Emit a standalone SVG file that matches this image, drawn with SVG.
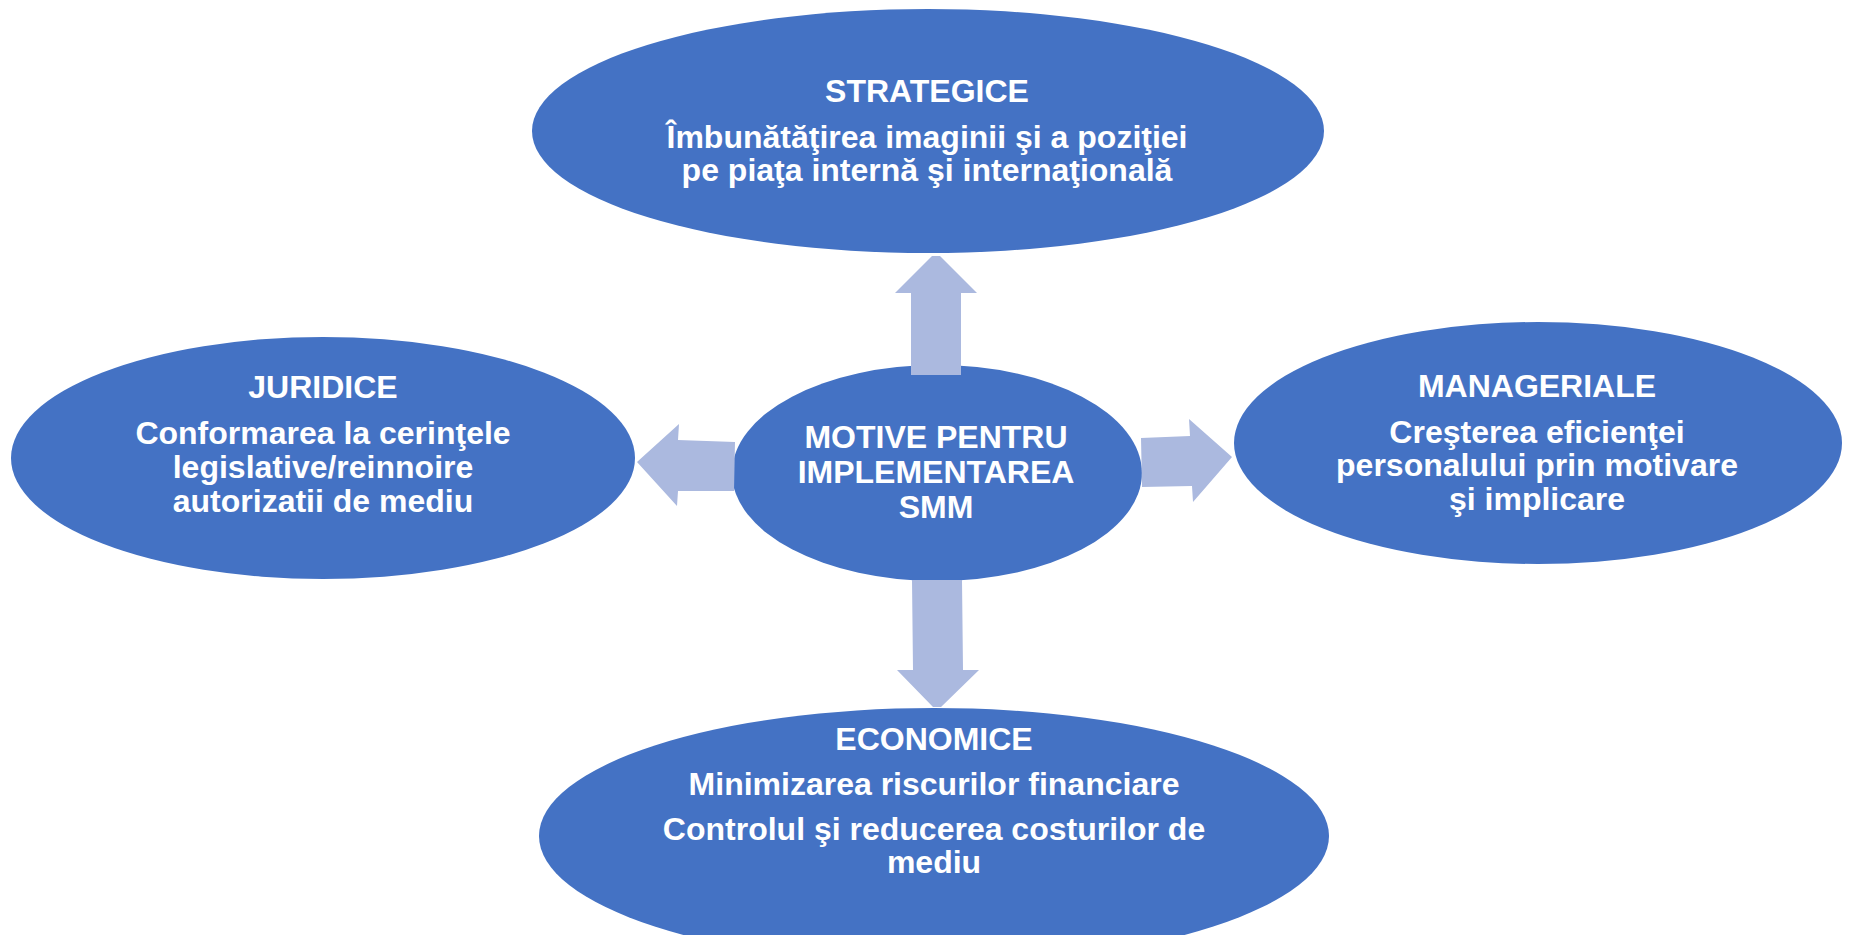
<svg xmlns="http://www.w3.org/2000/svg" width="1850" height="935" viewBox="0 0 1850 935">
<style>
.node{fill:#4472C4}
.arrow{fill:#ABB9DF}
text{font-family:"Liberation Sans",Arial,sans-serif;font-weight:bold;font-size:32px;fill:#FFFFFF;text-anchor:middle}
</style>
<rect width="1850" height="935" fill="#FFFFFF"/>
<g id="node-strategice">
<ellipse class="node" cx="928" cy="131" rx="396" ry="122"/>
<text x="927" y="102">STRATEGICE</text>
<text x="927" y="148">Îmbunătăţirea imaginii şi a poziţiei</text>
<text x="927" y="181">pe piaţa internă şi internaţională</text>
</g>
<g id="node-juridice">
<ellipse class="node" cx="323" cy="458" rx="312" ry="121"/>
<text x="323" y="398">JURIDICE</text>
<text x="323" y="444">Conformarea la cerinţele</text>
<text x="323" y="478">legislative/reinnoire</text>
<text x="323" y="512">autorizatii de mediu</text>
</g>
<g id="node-manageriale">
<ellipse class="node" cx="1538" cy="443" rx="304" ry="121"/>
<text x="1537" y="397">MANAGERIALE</text>
<text x="1537" y="443">Creşterea eficienţei</text>
<text x="1537" y="476">personalului prin motivare</text>
<text x="1537" y="510">şi implicare</text>
</g>
<g id="node-economice">
<ellipse class="node" cx="934" cy="836" rx="395" ry="128"/>
<text x="934" y="750">ECONOMICE</text>
<text x="934" y="795">Minimizarea riscurilor financiare</text>
<text x="934" y="840">Controlul şi reducerea costurilor de</text>
<text x="934" y="873">mediu</text>
</g>
<g id="node-center">
<ellipse class="node" cx="937" cy="473" rx="205" ry="108"/>
<text x="936" y="448">MOTIVE PENTRU</text>
<text x="936" y="483">IMPLEMENTAREA</text>
<text x="936" y="518">SMM</text>
</g>
<g id="connectors">
<polygon class="arrow" points="911,375 911,293 895,293 932,256 940,256 977,293 961,293 961,375"/>
<polygon class="arrow" points="912,580 962,580 963,670 979,670 941,707 933,707 897,670 913,670"/>
<polygon class="arrow" points="735,442 678,440 679,424 637,462 677,506 678,491 734,491"/>
<polygon class="arrow" points="1141,438 1190,436 1189,419 1232,457 1193,502 1192,486 1142,487"/>
</g>
</svg>
